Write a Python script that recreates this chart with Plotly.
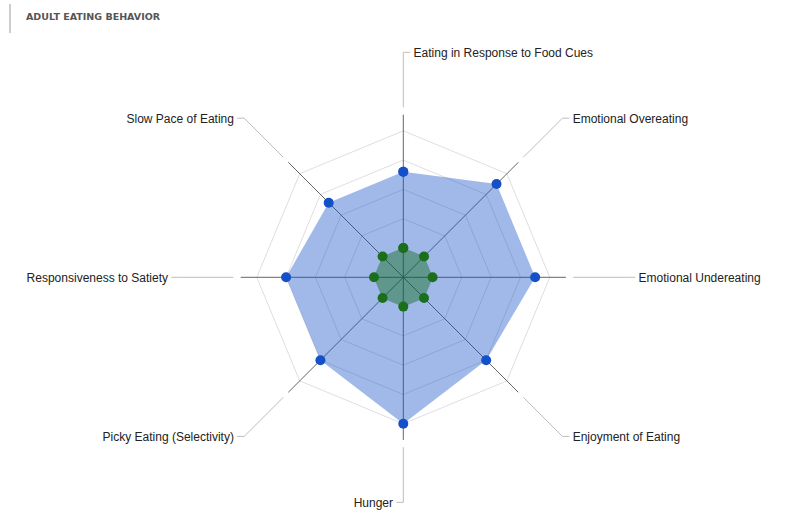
import math
import plotly.graph_objects as go

# ---- data ----
categories = [
    "Eating in Response to Food Cues",
    "Emotional Overeating",
    "Emotional Undereating",
    "Enjoyment of Eating",
    "Hunger",
    "Picky Eating (Selectivity)",
    "Responsiveness to Satiety",
    "Slow Pace of Eating",
]
series_a = [3.6, 4.5, 4.5, 4.0, 5.0, 4.0, 4.0, 3.6]
series_b = [1.0, 1.0, 1.0, 1.0, 1.0, 1.0, 1.0, 1.0]
ring_levels = [1, 2, 3, 4, 5]
title_text = "ADULT EATING BEHAVIOR"

# ---- geometry (in radial units) ----
n = len(categories)
angles = [i * 360 / n for i in range(n)]
R_MAX = 8.2
AXIS_END = 5.55
LEAD_START = 5.8
LEAD_ELBOW = 7.68
HORIZ = 0.24   # horizontal tick length (radial units)
TXT_GAP = 0.11  # gap between tick and label
TXT_DROP = 0.07  # small vertical optical offset for labels

fig = go.Figure()

# grid rings
for lv in ring_levels:
    fig.add_trace(go.Scatterpolar(
        r=[lv] * (n + 1), theta=angles + [angles[0]], mode="lines",
        line=dict(color="#dedede", width=1), hoverinfo="skip", showlegend=False))

# axis spokes
rs, ts = [], []
for a in angles:
    rs += [0, AXIS_END, None]
    ts += [a, a, None]
fig.add_trace(go.Scatterpolar(r=rs, theta=ts, mode="lines",
                              line=dict(color="#666666", width=1),
                              hoverinfo="skip", showlegend=False))


def to_polar(x, y):
    r = math.hypot(x, y)
    th = math.degrees(math.atan2(x, y)) % 360
    return r, th


# leader lines + labels
lr, lt = [], []
txt_r, txt_t, txt_pos = [], [], []
for a, lab in zip(angles, categories):
    ex = LEAD_ELBOW * math.sin(math.radians(a))
    ey = LEAD_ELBOW * math.cos(math.radians(a))
    right = (a % 360) < 180 - 1e-6
    sgn = 1 if right else -1
    end_r, end_t = to_polar(ex + sgn * HORIZ, ey)
    lr += [LEAD_START, LEAD_ELBOW, end_r, None]
    lt += [a, a, end_t, None]
    tr, tt = to_polar(ex + sgn * (HORIZ + TXT_GAP), ey - TXT_DROP)
    txt_r.append(tr)
    txt_t.append(tt)
    txt_pos.append("middle right" if right else "middle left")

fig.add_trace(go.Scatterpolar(r=lr, theta=lt, mode="lines",
                              line=dict(color="#bdbdbd", width=1),
                              hoverinfo="skip", showlegend=False))

# data series
fig.add_trace(go.Scatterpolar(
    r=series_a + [series_a[0]], theta=angles + [angles[0]], mode="markers",
    fill="toself", fillcolor="rgba(20,80,200,0.4)",
    line=dict(width=0, color="rgba(0,0,0,0)"),
    marker=dict(size=10, color="#1450c8"), name="Series A", showlegend=False))
fig.add_trace(go.Scatterpolar(
    r=series_b + [series_b[0]], theta=angles + [angles[0]], mode="markers",
    fill="toself", fillcolor="rgba(0,100,0,0.4)",
    line=dict(width=0, color="rgba(0,0,0,0)"),
    marker=dict(size=10, color="#1b6e1b"), name="Series B", showlegend=False))

# labels
fig.add_trace(go.Scatterpolar(
    r=txt_r, theta=txt_t, mode="text", text=categories, textposition=txt_pos,
    textfont=dict(family="Liberation Sans, Arial, sans-serif", size=12, color="#222222"),
    cliponaxis=False, hoverinfo="skip", showlegend=False))

W, H = 799, 518
cx, cy, rad = 403.3, 277.3, 29.3 * R_MAX
fig.update_layout(
    width=W, height=H,
    margin=dict(l=0, r=0, t=0, b=0),
    paper_bgcolor="white",
    showlegend=False,
    polar=dict(
        domain=dict(x=[(cx - rad) / W, (cx + rad) / W],
                    y=[max(0.0, 1 - (cy + rad) / H), min(1.0, 1 - (cy - rad) / H)]),
        bgcolor="rgba(0,0,0,0)",
        radialaxis=dict(visible=False, range=[0, R_MAX]),
        angularaxis=dict(rotation=90, direction="clockwise", showgrid=False,
                         showline=False, showticklabels=False, ticks=""),
    ),
    shapes=[dict(type="line", xref="paper", yref="paper",
                 x0=10 / W, x1=10 / W, y0=1 - 4 / H, y1=1 - 33 / H,
                 line=dict(color="#9a9a9a", width=1))],
    annotations=[dict(text="<b>" + title_text + "</b>", xref="paper", yref="paper",
                      x=24 / W, y=1 - 16 / H, xanchor="left", yanchor="middle",
                      showarrow=False,
                      font=dict(family="DejaVu Sans, sans-serif", size=9.5, color="#555555"))],
)

fig.write_html("out.html")
